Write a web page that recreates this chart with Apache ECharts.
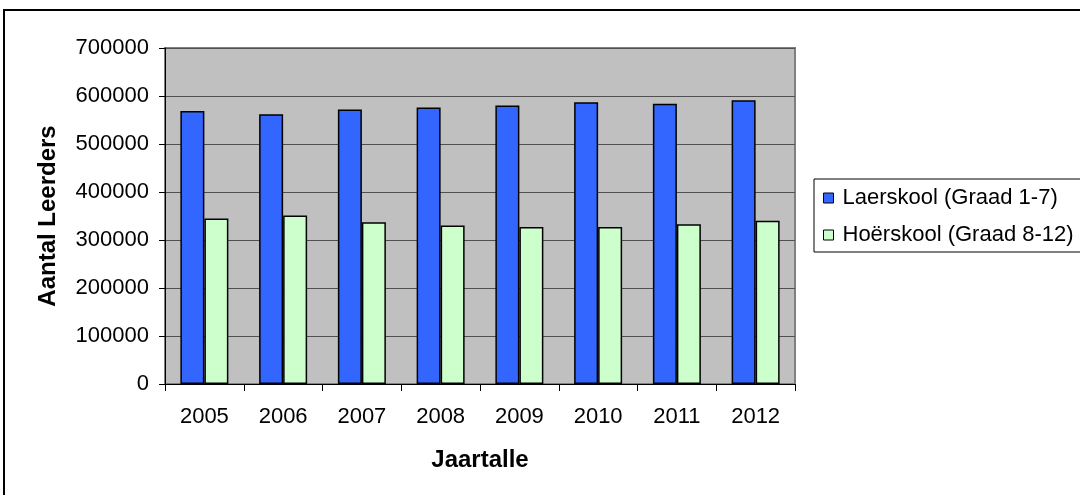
<!DOCTYPE html>
<html>
<head>
    <meta charset="utf-8">
    <title>Leerders</title>
    <script src="https://cdn.jsdelivr.net/npm/echarts@6/dist/echarts.min.js"></script>
    <style>
        html, body { margin: 0; padding: 0; background: #fff; }
    </style>
</head>
<body>
    <div id="main" style="width: 1080px; height: 495px;"></div>
    <script type="text/javascript">
        // data
        var years = ['2005', '2006', '2007', '2008', '2009', '2010', '2011', '2012'];
        var laerskool = [569000, 562000, 572000, 576000, 580000, 587000, 584000, 591000];
        var hoerskool = [345000, 351000, 337000, 330000, 327000, 327000, 333000, 340000];
        var seriesNames = ['Laerskool (Graad 1-7)', 'Hoërskool (Graad 8-12)'];

        var font = "'Liberation Sans', Arial, sans-serif";
        var myChart = echarts.init(document.getElementById('main'));

        var option = {
            backgroundColor: '#fff',
            animation: false,
            textStyle: { fontFamily: font, color: '#000' },
            graphic: [
                {
                    type: 'rect',
                    z: -10,
                    shape: { x: 4, y: 10, width: 1200, height: 600 },
                    style: { fill: 'none', stroke: '#000', lineWidth: 2 }
                }
            ],
            grid: {
                left: 165,
                right: 285,
                top: 48,
                bottom: 111,
                show: true,
                backgroundColor: '#C0C0C0',
                borderColor: '#808080',
                borderWidth: 2
            },
            legend: {
                data: seriesNames,
                orient: 'vertical',
                left: 814,
                top: 179,
                padding: [8, 10, 6, 9],
                itemGap: 15,
                itemWidth: 10,
                itemHeight: 10,
                icon: 'rect',
                borderColor: '#000',
                borderWidth: 1,
                backgroundColor: '#fff',
                itemStyle: { borderColor: '#000', borderWidth: 1 },
                textStyle: {
                    fontFamily: font,
                    fontSize: 22,
                    color: '#000',
                    padding: [0, 0, 0, 4]
                }
            },
            xAxis: {
                type: 'category',
                data: years,
                name: 'Jaartalle',
                nameLocation: 'middle',
                nameGap: 64,
                nameTextStyle: { fontFamily: font, fontSize: 24, fontWeight: 'bold', color: '#000' },
                axisLine: { lineStyle: { color: '#000', width: 1 } },
                axisTick: { show: true, length: 7, lineStyle: { color: '#000' } },
                axisLabel: { fontFamily: font, fontSize: 22, color: '#000', margin: 22 }
            },
            yAxis: {
                type: 'value',
                min: 0,
                max: 700000,
                interval: 100000,
                name: 'Aantal Leerders',
                nameLocation: 'middle',
                nameRotate: 90,
                nameGap: 105,
                nameTextStyle: { fontFamily: font, fontSize: 24, fontWeight: 'bold', color: '#000' },
                axisLine: { show: true, lineStyle: { color: '#000', width: 1 } },
                axisTick: { show: true, length: 6, lineStyle: { color: '#000' } },
                axisLabel: {
                    fontFamily: font, fontSize: 22, color: '#000', margin: 16,
                    formatter: function (v) { return String(v); }
                },
                splitLine: { show: true, lineStyle: { color: '#505050', width: 1 } }
            },
            series: [
                {
                    name: seriesNames[0],
                    type: 'bar',
                    data: laerskool,
                    barWidth: 24,
                    barGap: '0%',
                    itemStyle: { color: '#3366FF', borderColor: '#000', borderWidth: 1.5 }
                },
                {
                    name: seriesNames[1],
                    type: 'bar',
                    data: hoerskool,
                    barWidth: 24,
                    itemStyle: { color: '#CCFFCC', borderColor: '#000', borderWidth: 1.5 }
                }
            ]
        };

        myChart.setOption(option);
    </script>
</body>
</html>
